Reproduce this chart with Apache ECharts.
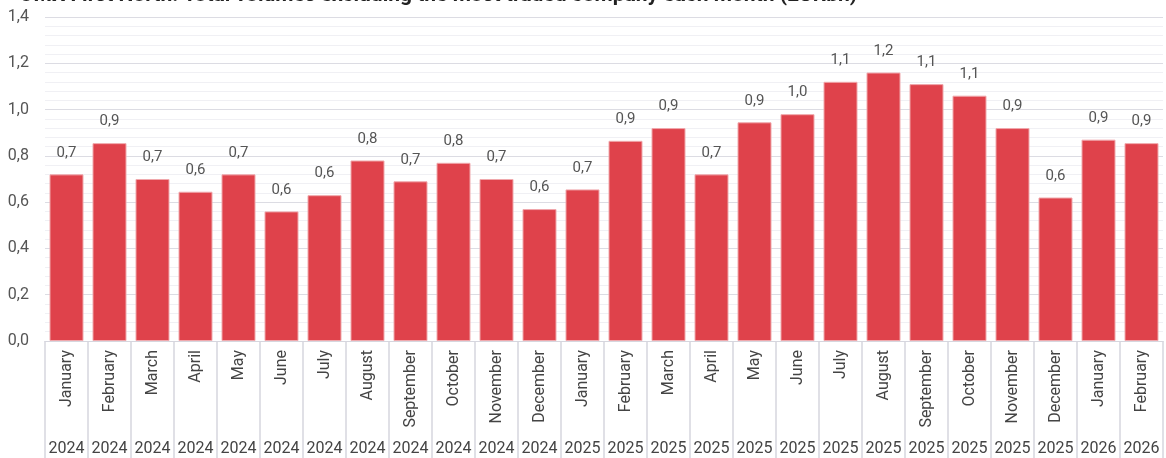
<!DOCTYPE html>
<html>
<head>
<meta charset="utf-8">
<script src="https://cdn.jsdelivr.net/npm/echarts@6/dist/echarts.min.js"></script>
<style>
html,body{margin:0;padding:0;background:#fff;}
#c{width:1166px;height:458px;}
</style>
</head>
<body>
<div id="c"></div>
<script>
const months = ["January","February","March","April","May","June","July","August","September","October","November","December",
  "January","February","March","April","May","June","July","August","September","October","November","December",
  "January","February"];
const years = ["2024","2024","2024","2024","2024","2024","2024","2024","2024","2024","2024","2024",
  "2025","2025","2025","2025","2025","2025","2025","2025","2025","2025","2025","2025",
  "2026","2026"];
const volumes = [0.72,0.855,0.70,0.645,0.72,0.56,0.63,0.78,0.69,0.77,0.70,0.57,
  0.655,0.865,0.92,0.72,0.945,0.98,1.12,1.16,1.11,1.06,0.92,0.62,
  0.87,0.855];
const titleText = "OMX First North: Total volumes excluding the most traded company each month (EURbn)";

const fmt = v => (Math.round(v * 10) / 10).toFixed(1).replace('.', ',');
const chart = echarts.init(document.getElementById('c'));
chart.setOption({
  animation: false,
  textStyle: { fontFamily: 'Roboto' },
  title: {
    text: titleText, left: 14, top: -20,
    textStyle: { fontFamily: 'Roboto', fontWeight: 'bold', fontSize: 21, color: '#222' }
  },
  grid: { left: 45, right: 3, top: 17, bottom: 117 },
  xAxis: [
    {
      type: 'category', data: months, position: 'bottom',
      axisLine: { show: true, lineStyle: { color: '#d6d6de', width: 1 } },
      axisTick: { show: true, length: 117, interval: 0, lineStyle: { color: '#d6d6de', width: 1.5 } },
      axisLabel: { rotate: 90, interval: 0, margin: 9, fontSize: 16, color: '#444', fontFamily: 'Roboto' }
    },
    {
      type: 'category', data: years, position: 'bottom', offset: 108,
      axisLine: { show: false }, axisTick: { show: false },
      axisLabel: { interval: 0, margin: 0, fontSize: 16, color: '#444', fontFamily: 'Roboto', verticalAlign: 'middle', lineHeight: 18 }
    }
  ],
  yAxis: {
    type: 'value', min: 0, max: 1.4, interval: 0.2,
    axisLine: { show: false }, axisTick: { show: false },
    axisLabel: { formatter: v => fmt(v), fontSize: 16, color: '#555', margin: 16, fontFamily: 'Roboto' },
    splitLine: { show: true, lineStyle: { color: '#dcdce3', width: 1.2 } },
    minorTick: { show: false, splitNumber: 5 },
    minorSplitLine: { show: true, lineStyle: { color: '#f0f0f4', width: 1.2 } }
  },
  series: [{
    type: 'bar', data: volumes, xAxisIndex: 0, barWidth: 34,
    itemStyle: { color: '#df424b', borderColor: '#f0a8ac', borderWidth: 1 },
    label: {
      show: true, position: 'top', distance: 14, formatter: p => fmt(p.value),
      fontSize: 15, color: '#555', fontFamily: 'Roboto'
    }
  }]
});
</script>
</body>
</html>
